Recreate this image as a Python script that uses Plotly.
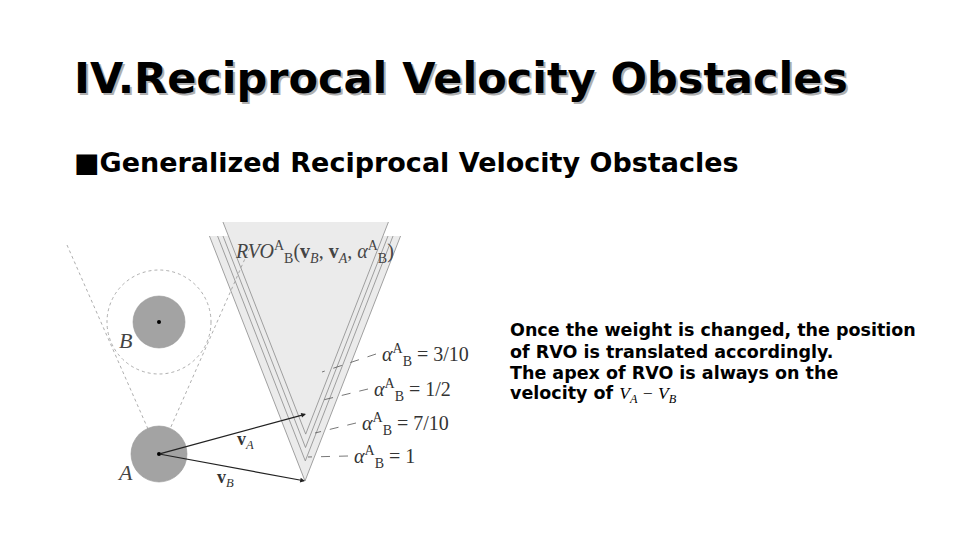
import plotly.graph_objects as go

# diagram data (page pixel coordinates, y grows downward)
agent_names = ["A", "B"]
agent_x = [159, 159]
agent_y = [454, 322]
agent_r = [28, 26]
b_outer_r = 52
v_a = [306, 414]
v_b = [305, 481]
alphas = [1.0, 0.7, 0.5, 0.3]
alpha_labels = ["1", "7/10", "1/2", "3/10"]
cone_top = [236, 236, 236, 222]
cone_slope = 0.39
label_pos = [(352, 457), (360, 424), (372, 390), (380, 355)]
leader_end = [(308, 457), (315, 433), (323, 400), (322, 372)]

fig = go.Figure()
shapes = []

# cones, outermost first
for a, top in zip(alphas, cone_top):
    ax = (1 - a) * v_a[0] + a * v_b[0]
    ay = (1 - a) * v_a[1] + a * v_b[1]
    hw = (ay - top) * cone_slope
    fig.add_trace(go.Scatter(
        x=[ax - hw, ax, ax + hw], y=[top, ay, top], mode="lines",
        fill="toself", fillcolor="#ebebeb",
        line=dict(color="#8a8a8a", width=0.8), hoverinfo="skip", showlegend=False))

# dotted cone from A
fig.add_trace(go.Scatter(x=[67, agent_x[0], 251], y=[245, agent_y[0], 245], mode="lines",
                         line=dict(color="#999", width=0.8, dash="dot"),
                         hoverinfo="skip", showlegend=False))

shapes.append(dict(type="circle", x0=agent_x[1] - b_outer_r, x1=agent_x[1] + b_outer_r,
                   y0=agent_y[1] - b_outer_r, y1=agent_y[1] + b_outer_r,
                   line=dict(color="#999", width=0.8, dash="dot")))
for x, y, r in zip(agent_x, agent_y, agent_r):
    shapes.append(dict(type="circle", x0=x - r, x1=x + r, y0=y - r, y1=y + r,
                       fillcolor="#a3a3a3", line=dict(color="#999", width=0.6)))
    shapes.append(dict(type="circle", x0=x - 2, x1=x + 2, y0=y - 2, y1=y + 2,
                       fillcolor="black", line=dict(width=0)))

ann = []
serif = "Liberation Serif"
for (lx, ly), (ex, ey), lab in zip(label_pos, leader_end, alpha_labels):
    fig.add_trace(go.Scatter(x=[lx - 4, ex], y=[ly - 1, ey], mode="lines",
                             line=dict(color="#555", width=0.8, dash="dash"),
                             hoverinfo="skip", showlegend=False))
    ann.append(dict(x=lx, y=ly, text="<i>α</i><sup>A</sup><sub>B</sub> = " + lab,
                    xanchor="left", font=dict(family=serif, size=20, color="#333")))

# velocity arrows
for v, name, off in [(v_a, "<b>v</b><sub><i>A</i></sub>", (245, 440)),
                     (v_b, "<b>v</b><sub><i>B</i></sub>", (225, 478))]:
    ann.append(dict(x=v[0], y=v[1], ax=agent_x[0], ay=agent_y[0], axref="x", ayref="y",
                    showarrow=True, arrowhead=2, arrowsize=0.8, arrowwidth=1.2,
                    arrowcolor="#222", text=""))
    ann.append(dict(x=off[0], y=off[1], text=name, font=dict(family=serif, size=18, color="#333")))

title = "<b>IV.Reciprocal Velocity Obstacles</b>"
ann += [
    dict(x=125, y=340, text="<i>B</i>", font=dict(family=serif, size=22, color="#444")),
    dict(x=125, y=472, text="<i>A</i>", font=dict(family=serif, size=22, color="#444")),
    dict(x=233, y=252, xanchor="left",
         text="<i>RVO</i><sup>A</sup><sub>B</sub>(<b>v</b><sub><i>B</i></sub>, <b>v</b><sub><i>A</i></sub>, <i>α</i><sup>A</sup><sub>B</sub>)",
         font=dict(family=serif, size=20, color="#444")),
    dict(x=74, y=80, text=title, xanchor="left",
         font=dict(family="DejaVu Sans", size=43, color="#b0b0b0")),
    dict(x=72, y=78, text=title, xanchor="left",
         font=dict(family="DejaVu Sans", size=43, color="black")),
    dict(x=72, y=162, text="<b>■Generalized Reciprocal Velocity Obstacles</b>", xanchor="left",
         font=dict(family="DejaVu Sans", size=27, color="black")),
]
lines = ["Once the weight is changed, the position",
         "of RVO is translated accordingly.",
         "The apex of RVO is always on the",
         "velocity of <i><span style='font-family:Liberation Serif;font-weight:normal'>V<sub>A</sub> − V<sub>B</sub></span></i>"]
for i, t in enumerate(lines):
    ann.append(dict(x=508, y=330 + i * 21.5, text="<b>" + t + "</b>", xanchor="left",
                    font=dict(family="DejaVu Sans", size=17.5, color="black")))
for a in ann:
    a.setdefault("showarrow", False)
    a.setdefault("xref", "x")
    a.setdefault("yref", "y")

# the page has an 8px body margin, so shift the ranges to keep page coordinates
fig.update_layout(
    width=960, height=540, margin=dict(l=0, r=0, t=0, b=0),
    plot_bgcolor="white", paper_bgcolor="white",
    xaxis=dict(range=[8, 968], visible=False),
    yaxis=dict(range=[548, 8], visible=False),
    shapes=shapes, annotations=ann,
)
fig.write_html("out.html")
